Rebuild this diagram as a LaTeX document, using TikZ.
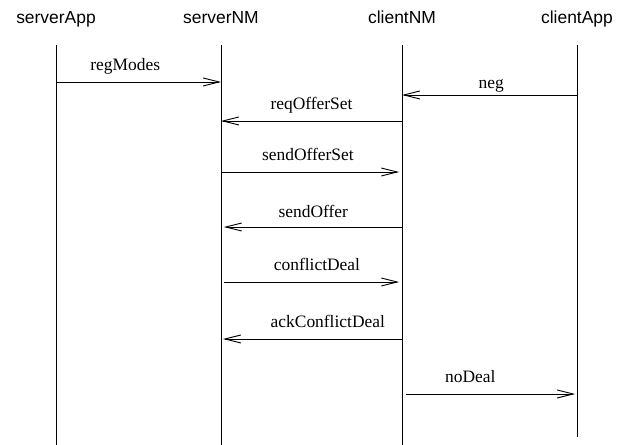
\documentclass[tikz,border=0pt]{standalone}
\usepackage{fontspec}
\setmainfont{Liberation Serif}
\newfontfamily\headfont{Liberation Sans}
\usetikzlibrary{arrows.meta}
\tikzset{
  lifeline/.style={line width=0.65pt},
  msg/.style={line width=0.65pt,-{Straight Barb[length=0.4cm,width=0.2cm,line width=0.65pt]}},
  lbl/.style={anchor=base,yshift=0.28cm,inner sep=0pt},
  head/.style={font=\headfont\fontsize{12.4}{14}\selectfont,anchor=base,inner sep=0pt}
}

\begin{document}
\begin{tikzpicture}[font=\fontsize{12.4}{14}\selectfont]
  \useasboundingbox (0,0) rectangle (15.6,11.125);

  \node[head] (sApp) at (1.4,10.525) {serverApp};
  \node[head] (sNM) at (5.525,10.525) {serverNM};
  \node[head] (cNM) at (10.05,10.525) {clientNM};
  \node[head] (cApp) at (14.425,10.525) {clientApp};

  \coordinate (sAppTop) at (1.4,10);
  \coordinate (sAppBot) at (1.4,0);
  \coordinate (sNMTop) at (5.525,10);
  \coordinate (sNMBot) at (5.525,0);
  \coordinate (cNMTop) at (10.05,10);
  \coordinate (cNMBot) at (10.05,0);
  \coordinate (cAppTop) at (14.425,10);
  \coordinate (cAppBot) at (14.425,0.2);

  \draw[lifeline] (sAppTop) -- (sAppBot);
  \draw[lifeline] (sNMTop) -- (sNMBot);
  \draw[lifeline] (cNMTop) -- (cNMBot);
  \draw[lifeline] (cAppTop) -- (cAppBot);

  \coordinate (m1) at (0,9.075);
  \coordinate (m2) at (0,8.75);
  \coordinate (m3) at (0,8.1);
  \coordinate (m4) at (0,6.825);
  \coordinate (m5) at (0,5.45);
  \coordinate (m6) at (0,4.075);
  \coordinate (m7) at (0,2.65);
  \coordinate (m8) at (0,1.275);

  \draw[msg] (sAppTop |- m1) -- (sNMTop |- m1)
    node[lbl,pos=0.42] {regModes};
  \draw[msg] (cAppTop |- m2) -- (cNMTop |- m2)
    node[lbl,pos=0.49,yshift=-0.13cm] {neg};
  \draw[msg] (cNMTop |- m3) -- (sNMTop |- m3)
    node[lbl,pos=0.5] {reqOfferSet};
  \draw[msg,shorten >=0.07cm] (sNMTop |- m4) -- (cNMTop |- m4)
    node[lbl,pos=0.48] {sendOfferSet};
  \draw[msg,shorten >=0.07cm] (cNMTop |- m5) -- (sNMTop |- m5)
    node[lbl,pos=0.49,yshift=-0.05cm] {sendOffer};
  \draw[msg,shorten <=0.07cm,shorten >=0.07cm] (sNMTop |- m6) -- (cNMTop |- m6)
    node[lbl,pos=0.53] {conflictDeal};
  \draw[msg,shorten >=0.05cm] (cNMTop |- m7) -- (sNMTop |- m7)
    node[lbl,pos=0.41] {ackConflictDeal};
  \draw[msg,shorten <=0.1cm,shorten >=0.05cm] (cNMTop |- m8) -- (cAppTop |- m8)
    node[lbl,pos=0.39] {noDeal};
\end{tikzpicture}
\end{document}
